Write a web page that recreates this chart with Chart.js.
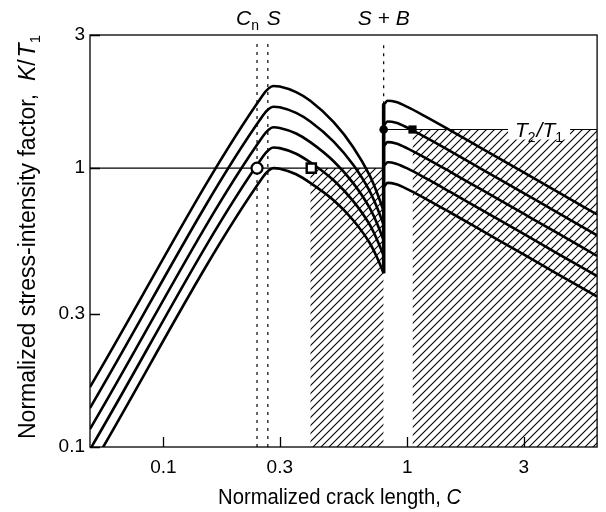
<!DOCTYPE html>
<html>
<head>
<meta charset="utf-8">
<script src="https://cdn.jsdelivr.net/npm/chart.js@4.4.1/dist/chart.umd.min.js"></script>
<style>
  html, body { margin: 0; padding: 0; background: #fff; }
  #wrap { width: 606px; height: 512px; }
</style>
</head>
<body>
<div id="wrap"><canvas id="chart" width="606" height="512"></canvas></div>
<script>
// axes (both logarithmic)
const xRange = [0.05, 6];
const yRange = [0.1, 3];
const xTicks = [0.1, 0.3, 1, 3];
const yTicks = [0.1, 0.3, 1, 3];

// marked crack lengths and the second threshold
const cnC = 0.242;
const sC = 0.268;
const sbC = 0.8;
const t2t1 = 1.375;

// five load levels: K/T1 up to S+B, then after S+B
const preC = [0.05, 0.255, 0.27, 0.282, 0.3, 0.35, 0.4, 0.5, 0.6, 0.7, 0.75, 0.8];
const preK = [
  [0.083, 0.925, 0.98, 1.0, 0.995, 0.95, 0.885, 0.765, 0.65, 0.54, 0.48, 0.42],
  [0.098, 1.096, 1.161, 1.185, 1.179, 1.126, 1.049, 0.902, 0.761, 0.628, 0.556, 0.485],
  [0.116, 1.295, 1.372, 1.40, 1.393, 1.33, 1.239, 1.056, 0.883, 0.721, 0.635, 0.55],
  [0.138, 1.536, 1.627, 1.66, 1.652, 1.577, 1.469, 1.242, 1.027, 0.828, 0.725, 0.625],
  [0.164, 1.822, 1.931, 1.97, 1.96, 1.872, 1.743, 1.457, 1.188, 0.943, 0.819, 0.70]
];
const postC = [0.8, 0.83, 0.9, 1.0, 1.2, 1.5, 2, 3, 4, 6];
const postK = [
  [0.86, 0.885, 0.875, 0.841, 0.773, 0.693, 0.60, 0.49, 0.424, 0.346],
  [1.019, 1.049, 1.037, 0.997, 0.916, 0.821, 0.711, 0.581, 0.502, 0.41],
  [1.204, 1.239, 1.225, 1.177, 1.082, 0.97, 0.84, 0.686, 0.594, 0.484],
  [1.428, 1.469, 1.453, 1.396, 1.283, 1.15, 0.996, 0.813, 0.704, 0.574],
  [1.694, 1.743, 1.724, 1.657, 1.523, 1.365, 1.182, 0.965, 0.835, 0.682]
];

// hatched zones (crack length span) and reference lines
const hatchAC = [0.4, 0.8];
const hatchBC = [1.05, 6];
const unitLineC = [0.05, 0.8];
const t2LineC = [0.8, 6];
const dotTop = 2.85;

// markers [C, K/T1]
const openCircle = [cnC, 1];
const openSquare = [0.404, 1];
const dotCircle = [sbC, t2t1];
const dotSquare = [1.05, t2t1];

const FONT = '"Liberation Sans", Arial, Helvetica, sans-serif';

// diagonal hatch pattern
const tile = document.createElement('canvas');
tile.width = 8; tile.height = 8;
const tc = tile.getContext('2d');
tc.strokeStyle = '#000';
tc.lineWidth = 1.1;
tc.beginPath();
tc.moveTo(0, 8); tc.lineTo(8, 0);
tc.moveTo(-2, 2); tc.lineTo(2, -2);
tc.moveTo(6, 10); tc.lineTo(10, 6);
tc.stroke();
const hatch = tc.createPattern(tile, 'repeat');

const pts = (xs, ys) => xs.map((c, j) => ({x: c, y: ys[j]}));

const curveStyle = {
  type: 'line', borderColor: '#000', borderWidth: 2.6, pointRadius: 0,
  cubicInterpolationMode: 'monotone', fill: false, order: 2
};

const datasets = [];

// markers on top
datasets.push({type: 'line', showLine: false, order: 0, data: [{x: openCircle[0], y: openCircle[1]}],
  pointStyle: 'circle', pointRadius: 5.5, pointBorderWidth: 2.2, pointBorderColor: '#000', pointBackgroundColor: '#fff'});
datasets.push({type: 'line', showLine: false, order: 0, data: [{x: openSquare[0], y: openSquare[1]}],
  pointStyle: 'rect', pointRadius: 6.5, pointBorderWidth: 2.4, pointBorderColor: '#000', pointBackgroundColor: '#fff'});
datasets.push({type: 'line', showLine: false, order: 0, data: [{x: dotCircle[0], y: dotCircle[1]}],
  pointStyle: 'circle', pointRadius: 4.3, pointBorderWidth: 0, pointBackgroundColor: '#000'});
datasets.push({type: 'line', showLine: false, order: 0, data: [{x: dotSquare[0], y: dotSquare[1]}],
  pointStyle: 'rect', pointRadius: 5.8, pointBorderWidth: 0, pointBackgroundColor: '#000'});

// curves
preK.forEach((ks, i) => {
  datasets.push(Object.assign({}, curveStyle, {data: pts(preC, ks)}));
  datasets.push(Object.assign({}, curveStyle, {
    data: [{x: sbC, y: ks[ks.length - 1]}].concat(pts(postC, postK[i]))
  }));
});

// jump at S+B
datasets.push({type: 'line', order: 1, borderColor: '#000', borderWidth: 3.6, pointRadius: 0,
  data: [{x: sbC, y: preK[0][preK[0].length - 1]}, {x: sbC, y: postK[4][0]}]});

// reference lines
datasets.push({type: 'line', order: 3, borderColor: '#000', borderWidth: 1.2, pointRadius: 0,
  data: unitLineC.map(c => ({x: c, y: 1}))});
datasets.push({type: 'line', order: 3, borderColor: '#000', borderWidth: 1.2, pointRadius: 0,
  data: t2LineC.map(c => ({x: c, y: t2t1}))});

// dotted markers
const dotted = {type: 'line', order: 4, borderColor: '#000', borderWidth: 1.2, borderDash: [3, 5], pointRadius: 0};
datasets.push(Object.assign({}, dotted, {data: [{x: cnC, y: yRange[0]}, {x: cnC, y: dotTop}]}));
datasets.push(Object.assign({}, dotted, {data: [{x: sC, y: yRange[0]}, {x: sC, y: dotTop}]}));
datasets.push(Object.assign({}, dotted, {data: [{x: sbC, y: postK[4][0]}, {x: sbC, y: dotTop}]}));

// hatched zones
datasets.push({type: 'line', order: 5, borderWidth: 0, pointRadius: 0, backgroundColor: hatch,
  fill: {value: yRange[0]}, data: hatchAC.map(c => ({x: c, y: 1}))});
datasets.push({type: 'line', order: 5, borderWidth: 0, pointRadius: 0, backgroundColor: hatch,
  fill: {value: yRange[0]}, data: hatchBC.map(c => ({x: c, y: t2t1}))});

function partFont(p, size) {
  const s = p.sub ? Math.round(size * 0.65) : size;
  return (p.it ? 'italic ' : '') + s + 'px ' + FONT;
}
function richWidth(ctx, parts, size) {
  let w = 0;
  for (const p of parts) { ctx.font = partFont(p, size); w += ctx.measureText(p.t).width + (p.gap || 0); }
  return w;
}
function drawRich(ctx, parts, x, y, size, align) {
  const w = richWidth(ctx, parts, size);
  let cx = align === 'center' ? x - w / 2 : align === 'right' ? x - w : x;
  ctx.textAlign = 'left';
  ctx.textBaseline = 'alphabetic';
  for (const p of parts) {
    ctx.font = partFont(p, size);
    ctx.fillText(p.t, cx, y + (p.sub ? size * 0.22 : 0));
    cx += ctx.measureText(p.t).width + (p.gap || 0);
  }
  return w;
}

const decor = {
  id: 'decor',
  afterDatasetsDraw(chart) {
    const {ctx, chartArea: a, scales: {x, y}} = chart;
    ctx.save();
    ctx.strokeStyle = '#000';
    ctx.fillStyle = '#000';
    ctx.lineWidth = 1.3;
    ctx.strokeRect(a.left, a.top, a.right - a.left, a.bottom - a.top);

    // inward ticks
    ctx.beginPath();
    xTicks.forEach(v => {
      const px = Math.round(x.getPixelForValue(v)) + 0.5;
      ctx.moveTo(px, a.bottom); ctx.lineTo(px, a.bottom - 10);
    });
    yTicks.forEach(v => {
      const py = Math.round(y.getPixelForValue(v)) + 0.5;
      ctx.moveTo(a.left, py); ctx.lineTo(a.left + 10, py);
    });
    ctx.stroke();

    // T2/T1 label sitting on its line
    const ty = y.getPixelForValue(t2t1);
    const tParts = [{t: 'T', it: true}, {t: '2', sub: true, gap: 1}, {t: '/', it: true}, {t: 'T', it: true}, {t: '1', sub: true}];
    const tw = richWidth(ctx, tParts, 21);
    const tx = 515;
    ctx.fillStyle = '#fff';
    ctx.fillRect(tx - 7, ty - 10, tw + 14, 20);
    ctx.fillStyle = '#000';
    drawRich(ctx, tParts, tx, ty + 7.5, 21, 'left');

    // labels above the plot
    const cnPx = x.getPixelForValue(cnC);
    const sPx = x.getPixelForValue(sC);
    const sbPx = x.getPixelForValue(sbC);
    drawRich(ctx, [{t: 'C', it: true}, {t: 'n', sub: true}], cnPx + 2, 25, 21, 'right');
    drawRich(ctx, [{t: 'S', it: true}], sPx - 1, 25, 21, 'left');
    drawRich(ctx, [{t: 'S + B', it: true}], sbPx, 25, 21, 'center');

    // axis titles
    ctx.save();
    ctx.translate((a.left + a.right) / 2 - 4, 504);
    ctx.scale(0.92, 1);
    drawRich(ctx, [{t: 'Normalized crack length, '}, {t: 'C', it: true}], 0, 0, 22, 'center');
    ctx.restore();

    ctx.save();
    ctx.translate(35, (a.top + a.bottom) / 2 - 4);
    ctx.rotate(-Math.PI / 2);
    drawRich(ctx, [{t: 'Normalized stress-intensity factor,  '}, {t: 'K', it: true}, {t: '/', gap: 2},
      {t: 'T', it: true}, {t: '1', sub: true}], 0, 0, 23, 'center');
    ctx.restore();

    ctx.restore();
  }
};

new Chart(document.getElementById('chart'), {
  type: 'line',
  data: {datasets},
  plugins: [decor],
  options: {
    animation: false,
    responsive: false,
    devicePixelRatio: 1,
    layout: {padding: {top: 35, right: 3, left: 0, bottom: 0}},
    plugins: {legend: {display: false}, tooltip: {enabled: false}},
    scales: {
      x: {
        type: 'logarithmic', min: xRange[0], max: xRange[1],
        grid: {display: false, drawTicks: false}, border: {display: false},
        afterBuildTicks: s => { s.ticks = xTicks.map(v => ({value: v})); },
        afterFit: s => { s.height = 65; },
        ticks: {color: '#000', font: {family: FONT, size: 19}, padding: 9, maxRotation: 0,
          autoSkip: false, callback: v => String(v)}
      },
      y: {
        type: 'logarithmic', min: yRange[0], max: yRange[1],
        grid: {display: false, drawTicks: false}, border: {display: false},
        afterBuildTicks: s => { s.ticks = yTicks.map(v => ({value: v})); },
        afterFit: s => { s.width = 90; },
        ticks: {color: '#000', font: {family: FONT, size: 19}, padding: 5,
          autoSkip: false, callback: v => String(v)}
      }
    }
  }
});
</script>
</body>
</html>
